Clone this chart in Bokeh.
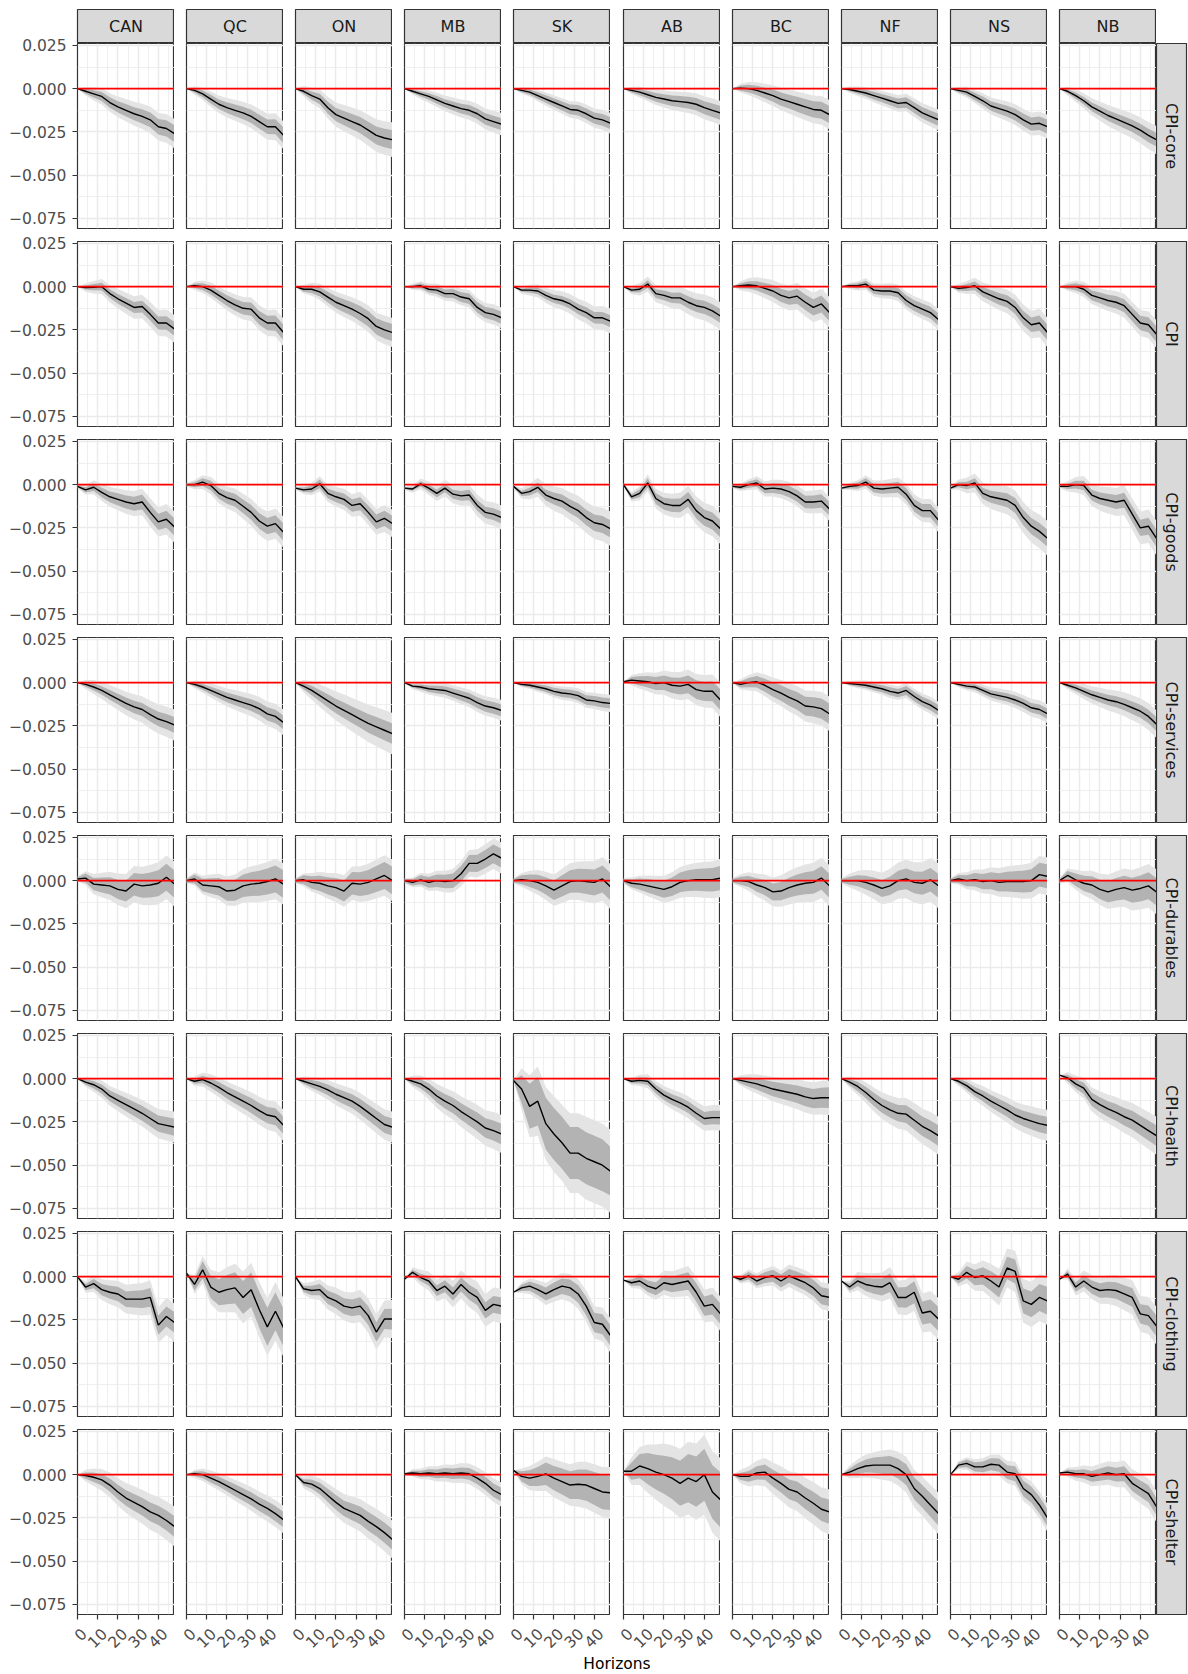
import math

from bokeh.core.properties import value
from bokeh.core.validation import silence
from bokeh.core.validation.warnings import MISSING_RENDERERS
from bokeh.embed import file_html
from bokeh.layouts import column, row
from bokeh.models import (ColumnDataSource, CustomJSTickFormatter, FixedTicker,
                          Grid, Label, LinearAxis, Range1d, Spacer, Span)
from bokeh.plotting import figure
from bokeh.resources import INLINE

# ---------------------------------------------------------------- data ----
REGIONS = ["CAN", "QC", "ON", "MB", "SK", "AB", "BC", "NF", "NS", "NB"]
SERIES = ["CPI-core", "CPI", "CPI-goods", "CPI-services",
          "CPI-durables", "CPI-health", "CPI-clothing", "CPI-shelter"]
HORIZONS = [0, 4, 8, 12, 16, 20, 24, 28, 32, 36, 40, 44, 48]
X_TICKS = [0, 10, 20, 30, 40]
X_TICK_LABELS = ["0", "10", "20", "30", "40"]
X_MINOR = [5, 15, 25, 35, 45]
Y_TICKS = [-0.075, -0.05, -0.025, 0.0, 0.025]
Y_MINOR = [-0.0625, -0.0375, -0.0125, 0.0125]
UNIT = 1e-3  # responses and band half-widths below are in thousandths

# point responses
IRF_CORE = {
    "CAN": [0, -1.5, -3, -4.5, -8, -10.5, -12.5, -14.5, -16, -18, -22, -23, -26],
    "QC": [0, -1, -3, -6, -9, -11, -12.5, -14, -16, -19, -22, -22, -27],
    "ON": [0, -1.5, -4, -6, -11, -15, -17, -19, -21, -24, -27, -28.5, -29.5],
    "MB": [0, -1.5, -3, -4.5, -6.5, -8.5, -10, -11.5, -12.5, -14.5, -17.5, -19, -20.5],
    "SK": [0, -1, -2, -4, -6, -8, -10, -12, -12.5, -14.5, -17, -18, -20],
    "AB": [0, -1, -2, -3.5, -5, -6, -7, -7.5, -8, -9, -11, -12.5, -14],
    "BC": [0, 0.3, 0, -1, -2.5, -4, -6, -7.5, -9, -10.5, -12, -12.5, -15],
    "NF": [0, -0.5, -1.5, -2.5, -4, -5.5, -7, -8.5, -8, -11, -14, -16, -18],
    "NS": [0, -1, -2, -4.5, -7, -10, -11.5, -13, -15, -18, -20.5, -20, -22],
    "NB": [0, -1.5, -4, -7, -10.5, -13, -15.5, -17.5, -19.5, -21.5, -24, -27, -29.5],
}
IRF_CPI = {
    "CAN": [0, -0.5, -0.3, 0, -4, -7, -9.5, -12, -11.5, -16, -21, -21, -24.5],
    "QC": [0, 0.5, 0, -2, -5, -8, -10.5, -12.5, -13, -18, -21, -21, -26.5],
    "ON": [0, -1.5, -1.5, -3, -6, -9, -11, -13, -15.5, -18.5, -23, -25, -26.5],
    "MB": [0, 0, 0.5, -1.5, -2, -4, -4, -6, -7, -12, -15, -16, -18],
    "SK": [0, -2, -2, -2.5, -5, -7, -8, -10, -13, -15, -18, -18, -20],
    "AB": [0, -2, -1.5, 1.5, -4, -5, -6.5, -6.5, -9, -11, -12, -14, -17],
    "BC": [0, 0.5, 1, 0.5, -1, -2.5, -5, -6.5, -5.5, -9, -12, -10, -15],
    "NF": [0, 0.5, 0.5, 1.5, -2, -2.5, -2.5, -3.5, -8, -11, -13, -15, -19],
    "NS": [0, -1, -0.5, 0.5, -3, -5, -7, -8.5, -12, -18, -22, -21, -26.5],
    "NB": [0, 0, 0, -1.5, -5, -6.5, -8, -9, -11, -16, -21, -22, -27.5],
}
IRF_GOODS = {
    "CAN": [-1, -3, -1.5, -4.5, -7, -8.5, -10, -11, -10, -16, -21.5, -20, -24.5],
    "QC": [0, 0, 1.5, -0.5, -5, -7.5, -9, -12.5, -16, -21, -24, -22.5, -27.5],
    "ON": [-2, -3, -2.5, 0.5, -5, -7, -8.5, -12, -11, -16, -21.5, -19.5, -22.5],
    "MB": [-2, -2.5, 0.5, -2, -5, -2, -5.5, -6.5, -6, -12, -16, -17, -19],
    "SK": [-1, -5, -4, -1.5, -6, -8, -9.5, -12.5, -15, -19, -22, -23, -25.5],
    "AB": [0, -7, -5, 1, -8, -11, -12, -12, -8.5, -15, -19, -21, -25.5],
    "BC": [-1, -1.5, 0, 1, -2.5, -2, -2.5, -4, -6.5, -10, -10, -9.5, -14],
    "NF": [-2, -1, -0.5, 1.5, -2, -2.5, -2, -1.5, -5.5, -12, -15, -15, -20.5],
    "NS": [-2, 0, -0.5, 1, -5, -7, -8, -9, -12, -19, -24, -27, -31],
    "NB": [-1, -1, 0, -0.5, -6, -8, -9, -10, -9, -17, -25, -24, -31],
}
IRF_SERVICES = {
    "CAN": [0, -1, -2.5, -4.5, -7, -9.5, -12, -14, -15.5, -18.5, -21, -22.5, -24.5],
    "QC": [0, -1, -2.5, -4.5, -6.5, -8.5, -10, -11.5, -13, -15, -18, -19.5, -23],
    "ON": [0, -2, -4.5, -7.5, -10.5, -13.5, -16, -18.5, -21, -23.5, -25.5, -27.5, -29.5],
    "MB": [0, -2, -2.5, -3.5, -4, -4.5, -6, -7.5, -9, -11.5, -13.5, -14.5, -16],
    "SK": [0, -1, -1.5, -2.5, -3.5, -5, -6, -6.5, -7.5, -10, -10.5, -11.5, -12],
    "AB": [0.5, 1.5, 1, 0.5, -0.5, 0, -1.5, -2, -1, -4, -5, -5, -10],
    "BC": [0, -1, 0, 0.5, -1.5, -4, -6, -8.5, -10.5, -13.5, -14, -15, -18],
    "NF": [0, -0.5, -1, -1.5, -2.5, -3.5, -5, -6, -4.5, -8, -11, -13, -16],
    "NS": [0, -1, -2, -2.5, -4.5, -6.5, -7.5, -8.5, -10, -12, -14.5, -15.5, -18],
    "NB": [0, -1.5, -3, -5, -7, -8.5, -10, -11, -12.5, -14.5, -16.5, -19.5, -24],
}
IRF_DURABLES = {
    "CAN": [1, 1.5, -2, -2.5, -3, -5, -6, -2, -3, -2.5, -1.5, 2, -2],
    "QC": [0, 1, -2.5, -3, -3.5, -6, -5.5, -3, -2, -1.5, -0.5, 1, -2],
    "ON": [0, 0.5, -1, -1.5, -3, -4, -6, -1.5, -2, -1, 1, 3, 0],
    "MB": [0, -1, 0.5, -1, 0, -0.5, 0, 4, 10, 10, 12.5, 15.5, 13],
    "SK": [0, 0.5, 0, -1, -3, -5.5, -3, -0.5, 0, -0.5, -1, 1, -3.5],
    "AB": [0, -1.5, -2, -3, -4, -5, -3.5, -1, 0, 0.5, 0.5, 0.5, 1.5],
    "BC": [0, 0, -0.5, -2.5, -4, -6.5, -6, -4, -2.5, -1.5, -1, 1.5, -3],
    "NF": [0, 0, 0, -1, -2.5, -4.5, -3, 0, 1, -1, -1.5, 0.5, -3],
    "NS": [0, 1, 0, 0.5, -0.5, 0, -1, -0.5, -0.5, -0.5, 0, 3.5, 2.5],
    "NB": [0, 3, 0.5, -1.5, -2.5, -5, -6.5, -5, -4, -5.5, -4.5, -3, -6.5],
}
IRF_HEALTH = {
    "CAN": [0, -2, -3.5, -6, -10, -12.5, -15, -17.5, -20, -23, -26, -27, -28],
    "QC": [0, -1.5, -0.5, -2.5, -5, -8, -10.5, -13, -15.5, -18.5, -21, -22, -27],
    "ON": [0, -1.5, -3, -4.5, -6.5, -9, -11, -13, -16, -19.5, -23, -26.5, -28],
    "MB": [0, -1.5, -3, -6, -10, -13, -15.5, -19, -22, -25, -28.5, -30, -32],
    "SK": [-1, -6, -16, -13, -26, -32, -37, -43, -43, -46, -48, -50, -53.5],
    "AB": [0, -1.5, -1, -1.5, -6, -9.5, -12, -14, -16.5, -20, -23, -22.5, -22.5],
    "BC": [0, -1, -2, -3, -4.5, -6, -7, -8, -9, -10.5, -11.5, -11, -11],
    "NF": [0, -2, -4.5, -8, -12, -15.5, -18, -20, -20.5, -24, -27.5, -30, -33],
    "NS": [0, -1.5, -4, -7.5, -10, -13, -15.5, -18, -21, -23, -24.5, -26, -27],
    "NB": [2, 0.5, -3, -5.5, -12, -15, -17.5, -19.5, -22, -24, -27, -30, -33],
}
IRF_CLOTHING = {
    "CAN": [0, -6, -4, -7.5, -9, -10, -13, -13, -13, -12, -28, -23, -26.5],
    "QC": [2, -4.5, 4, -6, -9, -7.5, -6.5, -12, -7.5, -19, -29, -20, -29.5],
    "ON": [0, -7, -8, -7.5, -12, -14, -17, -18, -17, -22.5, -32, -24.5, -24.5],
    "MB": [-1.5, 2.5, -0.5, -2.5, -8, -5.5, -10, -4.5, -9, -12, -19.5, -16, -17],
    "SK": [-9, -6.5, -5.5, -7.5, -10, -7.5, -5.5, -6.5, -10, -17, -26.5, -27.5, -34],
    "AB": [-2, -3.5, -2.5, -5.5, -7, -3.5, -4.5, -3.5, -2.5, -9, -17, -16, -21.5],
    "BC": [0, -1.5, 0.5, -2.5, -0.5, 0.5, -2.5, 0.5, -1.5, -3.5, -6.5, -11, -12],
    "NF": [-2.5, -6, -2.5, -4.5, -5.5, -6, -3.5, -12, -12, -9, -21, -20, -24.5],
    "NS": [0, -1.5, 2.5, -0.5, 0.5, -2.5, -6, 5, 3, -14, -16, -12, -14],
    "NB": [-1.5, 1.5, -6, -2.5, -6, -8, -7.5, -8, -10, -12, -21.5, -22.5, -28.5],
}
IRF_SHELTER = {
    "CAN": [0, -0.5, -1.5, -3, -6, -10, -13.5, -16, -18.5, -21.5, -23.5, -26.5, -30],
    "QC": [0, 0.5, 0, -2, -4, -6.5, -9, -11.5, -14, -17, -19.5, -22.5, -26],
    "ON": [0, -4.5, -5.5, -8, -12, -16, -19.5, -21.5, -23.5, -27, -30, -33.5, -37.5],
    "MB": [0.5, 1, 0.5, 1, 0.5, 1, 0.5, 1, 0.5, -2, -5, -9, -11.5],
    "SK": [2.5, -1, -2, -1, 0.5, -2, -4, -6, -5.5, -6, -8, -10, -10.5],
    "AB": [2, 2, 5, 3.5, 1.5, 0, -2, -5, -2, -4, 0, -10, -14.5],
    "BC": [0, -1, -1, 1, 1.5, -2, -5, -8.5, -10, -13.5, -16.5, -20, -21.5],
    "NF": [0, 1.5, 3.5, 5, 5.5, 5.5, 5.5, 3.5, 0, -8, -12.5, -17.5, -22.5],
    "NS": [0, 5.5, 6.5, 4.5, 4.5, 6, 5.5, 1.5, 0.5, -8, -11.5, -17.5, -25],
    "NB": [1, 1.5, 0.5, 0.5, -1, 0, 1, 0, 0.5, -5, -8, -11, -18.5],
}

# half-widths of the inner (dark) confidence band
BAND_IN_CORE = {
    "CAN": [0, 1.4, 2.1, 2.6, 3.0, 3.3, 3.6, 3.8, 4.1, 4.3, 4.5, 4.7, 4.8],
    "QC": [0, 1.3, 2.0, 2.5, 2.8, 3.1, 3.4, 3.6, 3.8, 4.0, 4.2, 4.4, 4.5],
    "ON": [0, 1.6, 2.4, 3.0, 3.5, 3.8, 4.1, 4.4, 4.7, 4.9, 5.2, 5.4, 5.5],
    "MB": [0, 1.0, 1.5, 1.9, 2.2, 2.4, 2.6, 2.8, 3.0, 3.1, 3.3, 3.4, 3.5],
    "SK": [0, 1.0, 1.5, 1.9, 2.2, 2.4, 2.6, 2.8, 3.0, 3.1, 3.3, 3.4, 3.5],
    "AB": [0, 1.2, 1.8, 2.2, 2.5, 2.8, 3.0, 3.2, 3.4, 3.6, 3.8, 3.9, 4.0],
    "BC": [0, 1.5, 2.2, 2.7, 3.1, 3.5, 3.8, 4.0, 4.3, 4.5, 4.7, 4.9, 5.0],
    "NF": [0, 1.0, 1.5, 1.9, 2.2, 2.4, 2.6, 2.8, 3.0, 3.1, 3.3, 3.4, 3.5],
    "NS": [0, 1.2, 1.8, 2.2, 2.5, 2.8, 3.0, 3.2, 3.4, 3.6, 3.8, 3.9, 4.0],
    "NB": [0, 1.2, 1.8, 2.2, 2.5, 2.8, 3.0, 3.2, 3.4, 3.6, 3.8, 3.9, 4.0],
}
BAND_IN_CPI = {
    "CAN": [0, 1.2, 1.8, 2.2, 2.5, 2.8, 3.0, 3.2, 3.4, 3.6, 3.8, 3.9, 4.0],
    "QC": [0, 1.3, 2.0, 2.5, 2.8, 3.1, 3.4, 3.6, 3.8, 4.0, 4.2, 4.4, 4.5],
    "ON": [0, 1.5, 2.2, 2.7, 3.1, 3.5, 3.8, 4.0, 4.3, 4.5, 4.7, 4.9, 5.0],
    "MB": [0, 1.0, 1.5, 1.9, 2.2, 2.4, 2.6, 2.8, 3.0, 3.1, 3.3, 3.4, 3.5],
    "SK": [0, 1.0, 1.5, 1.9, 2.2, 2.4, 2.6, 2.8, 3.0, 3.1, 3.3, 3.4, 3.5],
    "AB": [0, 1.2, 1.8, 2.2, 2.5, 2.8, 3.0, 3.2, 3.4, 3.6, 3.8, 3.9, 4.0],
    "BC": [0, 1.5, 2.2, 2.7, 3.1, 3.5, 3.8, 4.0, 4.3, 4.5, 4.7, 4.9, 5.0],
    "NF": [0, 1.0, 1.5, 1.9, 2.2, 2.4, 2.6, 2.8, 3.0, 3.1, 3.3, 3.4, 3.5],
    "NS": [0, 1.3, 2.0, 2.5, 2.8, 3.1, 3.4, 3.6, 3.8, 4.0, 4.2, 4.4, 4.5],
    "NB": [0, 1.3, 2.0, 2.5, 2.8, 3.1, 3.4, 3.6, 3.8, 4.0, 4.2, 4.4, 4.5],
}
BAND_IN_GOODS = {
    "CAN": [0.5, 1.5, 2.2, 2.7, 3.1, 3.5, 3.8, 4.0, 4.3, 4.5, 4.7, 4.9, 5.0],
    "QC": [0.5, 1.5, 2.2, 2.7, 3.1, 3.5, 3.8, 4.0, 4.3, 4.5, 4.7, 4.9, 5.0],
    "ON": [0.5, 1.3, 2.0, 2.5, 2.8, 3.1, 3.4, 3.6, 3.8, 4.0, 4.2, 4.4, 4.5],
    "MB": [0.5, 1.0, 1.5, 1.9, 2.2, 2.4, 2.6, 2.8, 3.0, 3.1, 3.3, 3.4, 3.5],
    "SK": [0.5, 1.5, 2.2, 2.7, 3.1, 3.5, 3.8, 4.0, 4.3, 4.5, 4.7, 4.9, 5.0],
    "AB": [0.5, 1.5, 2.2, 2.7, 3.1, 3.5, 3.8, 4.0, 4.3, 4.5, 4.7, 4.9, 5.0],
    "BC": [0.5, 1.2, 1.8, 2.2, 2.5, 2.8, 3.0, 3.2, 3.4, 3.6, 3.8, 3.9, 4.0],
    "NF": [0.5, 1.2, 1.8, 2.2, 2.5, 2.8, 3.0, 3.2, 3.4, 3.6, 3.8, 3.9, 4.0],
    "NS": [0.5, 1.5, 2.2, 2.7, 3.1, 3.5, 3.8, 4.0, 4.3, 4.5, 4.7, 4.9, 5.0],
    "NB": [0.5, 1.5, 2.2, 2.7, 3.1, 3.5, 3.8, 4.0, 4.3, 4.5, 4.7, 4.9, 5.0],
}
BAND_IN_SERVICES = {
    "CAN": [0, 1.3, 2.0, 2.5, 2.8, 3.1, 3.4, 3.6, 3.8, 4.0, 4.2, 4.4, 4.5],
    "QC": [0, 1.2, 1.8, 2.2, 2.5, 2.8, 3.0, 3.2, 3.4, 3.6, 3.8, 3.9, 4.0],
    "ON": [0, 1.8, 2.7, 3.3, 3.8, 4.2, 4.5, 4.8, 5.1, 5.4, 5.6, 5.8, 6.0],
    "MB": [0, 1.0, 1.5, 1.9, 2.2, 2.4, 2.6, 2.8, 3.0, 3.1, 3.3, 3.4, 3.5],
    "SK": [0, 0.9, 1.3, 1.6, 1.9, 2.1, 2.3, 2.4, 2.6, 2.7, 2.8, 2.9, 3.0],
    "AB": [0, 1.8, 2.7, 3.3, 3.8, 4.2, 4.5, 4.8, 5.1, 5.4, 5.6, 5.8, 6.0],
    "BC": [0, 1.8, 2.7, 3.3, 3.8, 4.2, 4.5, 4.8, 5.1, 5.4, 5.6, 5.8, 6.0],
    "NF": [0, 0.9, 1.3, 1.6, 1.9, 2.1, 2.3, 2.4, 2.6, 2.7, 2.8, 2.9, 3.0],
    "NS": [0, 0.9, 1.3, 1.6, 1.9, 2.1, 2.3, 2.4, 2.6, 2.7, 2.8, 2.9, 3.0],
    "NB": [0, 1.2, 1.8, 2.2, 2.5, 2.8, 3.0, 3.2, 3.4, 3.6, 3.8, 3.9, 4.0],
}
BAND_IN_DURABLES = {
    "CAN": [1.0, 2.6, 3.6, 4.4, 5.0, 5.6, 6.1, 6.5, 6.9, 7.2, 7.5, 7.8, 8.0],
    "QC": [1.0, 2.6, 3.6, 4.4, 5.0, 5.6, 6.1, 6.5, 6.9, 7.2, 7.5, 7.8, 8.0],
    "ON": [1.0, 2.6, 3.6, 4.4, 5.0, 5.6, 6.1, 6.5, 6.9, 7.2, 7.5, 7.8, 8.0],
    "MB": [1.0, 1.8, 2.6, 3.1, 3.6, 3.9, 4.2, 4.5, 4.8, 5.0, 5.2, 5.4, 5.5],
    "SK": [1.0, 2.6, 3.6, 4.4, 5.0, 5.6, 6.1, 6.5, 6.9, 7.2, 7.5, 7.8, 8.0],
    "AB": [1.0, 2.3, 3.2, 3.9, 4.4, 4.9, 5.3, 5.7, 6.0, 6.3, 6.6, 6.8, 7.0],
    "BC": [1.0, 2.3, 3.2, 3.9, 4.4, 4.9, 5.3, 5.7, 6.0, 6.3, 6.6, 6.8, 7.0],
    "NF": [1.0, 2.3, 3.2, 3.9, 4.4, 4.9, 5.3, 5.7, 6.0, 6.3, 6.6, 6.8, 7.0],
    "NS": [1.0, 2.3, 3.2, 3.9, 4.4, 4.9, 5.3, 5.7, 6.0, 6.3, 6.6, 6.8, 7.0],
    "NB": [1.0, 2.6, 3.6, 4.4, 5.0, 5.6, 6.1, 6.5, 6.9, 7.2, 7.5, 7.8, 8.0],
}
BAND_IN_HEALTH = {
    "CAN": [0, 1.5, 2.2, 2.7, 3.1, 3.5, 3.8, 4.0, 4.3, 4.5, 4.7, 4.9, 5.0],
    "QC": [0, 1.5, 2.2, 2.7, 3.1, 3.5, 3.8, 4.0, 4.3, 4.5, 4.7, 4.9, 5.0],
    "ON": [0, 1.5, 2.2, 2.7, 3.1, 3.5, 3.8, 4.0, 4.3, 4.5, 4.7, 4.9, 5.0],
    "MB": [0, 1.8, 2.7, 3.3, 3.8, 4.2, 4.5, 4.8, 5.1, 5.4, 5.6, 5.8, 6.0],
    "SK": [0, 8.0, 13.0, 14.0, 15.0, 15.0, 15.0, 15.0, 15.0, 15.0, 15.0, 15.0, 14.0],
    "AB": [0, 1.2, 1.8, 2.2, 2.5, 2.8, 3.0, 3.2, 3.4, 3.6, 3.8, 3.9, 4.0],
    "BC": [0, 1.8, 2.7, 3.3, 3.8, 4.2, 4.5, 4.8, 5.1, 5.4, 5.6, 5.8, 6.0],
    "NF": [0, 1.8, 2.7, 3.3, 3.8, 4.2, 4.5, 4.8, 5.1, 5.4, 5.6, 5.8, 6.0],
    "NS": [0, 1.5, 2.2, 2.7, 3.1, 3.5, 3.8, 4.0, 4.3, 4.5, 4.7, 4.9, 5.0],
    "NB": [0, 1.8, 2.7, 3.3, 3.8, 4.2, 4.5, 4.8, 5.1, 5.4, 5.6, 5.8, 6.0],
}
BAND_IN_CLOTHING = {
    "CAN": [0, 1.8, 2.7, 3.3, 3.8, 4.2, 4.5, 4.8, 5.1, 5.4, 5.6, 5.8, 6.0],
    "QC": [0, 3.5, 5.0, 6.5, 7.5, 8.5, 9.0, 9.5, 10.0, 10.5, 11.0, 11.0, 11.0],
    "ON": [0, 1.8, 2.7, 3.3, 3.8, 4.2, 4.5, 4.8, 5.1, 5.4, 5.6, 5.8, 6.0],
    "MB": [0, 1.5, 2.2, 2.7, 3.1, 3.5, 3.8, 4.0, 4.3, 4.5, 4.7, 4.9, 5.0],
    "SK": [0, 1.8, 2.7, 3.3, 3.8, 4.2, 4.5, 4.8, 5.1, 5.4, 5.6, 5.8, 6.0],
    "AB": [0, 1.8, 2.7, 3.3, 3.8, 4.2, 4.5, 4.8, 5.1, 5.4, 5.6, 5.8, 6.0],
    "BC": [0, 1.5, 2.2, 2.7, 3.1, 3.5, 3.8, 4.0, 4.3, 4.5, 4.7, 4.9, 5.0],
    "NF": [0, 2.1, 3.1, 3.8, 4.4, 4.9, 5.3, 5.7, 6.0, 6.3, 6.6, 6.8, 7.0],
    "NS": [0, 2.4, 3.6, 4.4, 5.0, 5.6, 6.1, 6.5, 6.9, 7.2, 7.5, 7.8, 8.0],
    "NB": [0, 1.8, 2.7, 3.3, 3.8, 4.2, 4.5, 4.8, 5.1, 5.4, 5.6, 5.8, 6.0],
}
BAND_IN_SHELTER = {
    "CAN": [0, 1.8, 2.7, 3.3, 3.8, 4.2, 4.5, 4.8, 5.1, 5.4, 5.6, 5.8, 6.0],
    "QC": [0, 1.3, 2.0, 2.5, 2.8, 3.1, 3.4, 3.6, 3.8, 4.0, 4.2, 4.4, 4.5],
    "ON": [0, 1.8, 2.7, 3.3, 3.8, 4.2, 4.5, 4.8, 5.1, 5.4, 5.6, 5.8, 6.0],
    "MB": [0, 1.2, 1.8, 2.2, 2.5, 2.8, 3.0, 3.2, 3.4, 3.6, 3.8, 3.9, 4.0],
    "SK": [0, 3.0, 4.5, 5.5, 6.5, 7.0, 7.5, 8.0, 8.5, 9.0, 9.5, 10.0, 10.0],
    "AB": [0, 5.0, 7.0, 9.0, 10.0, 11.0, 12.0, 13.0, 14.0, 14.5, 15.0, 15.5, 16.0],
    "BC": [0, 2.1, 3.1, 3.8, 4.4, 4.9, 5.3, 5.7, 6.0, 6.3, 6.6, 6.8, 7.0],
    "NF": [0, 2.1, 3.1, 3.8, 4.4, 4.9, 5.3, 5.7, 6.0, 6.3, 6.6, 6.8, 7.0],
    "NS": [0, 1.5, 2.2, 2.7, 3.1, 3.5, 3.8, 4.0, 4.3, 4.5, 4.7, 4.9, 5.0],
    "NB": [0, 1.5, 2.2, 2.7, 3.1, 3.5, 3.8, 4.0, 4.3, 4.5, 4.7, 4.9, 5.0],
}

# half-widths of the outer (light) confidence band
BAND_OUT_CORE = {
    "CAN": [0, 2.5, 3.8, 4.7, 5.4, 6.0, 6.5, 6.9, 7.3, 7.7, 8.0, 8.3, 8.5],
    "QC": [0, 2.4, 3.6, 4.4, 5.0, 5.6, 6.1, 6.5, 6.9, 7.2, 7.5, 7.8, 8.0],
    "ON": [0, 3.0, 4.5, 5.5, 6.3, 7.0, 7.6, 8.1, 8.6, 9.0, 9.4, 9.7, 10.0],
    "MB": [0, 1.9, 2.9, 3.6, 4.1, 4.5, 4.9, 5.2, 5.5, 5.8, 6.1, 6.3, 6.5],
    "SK": [0, 1.8, 2.7, 3.3, 3.8, 4.2, 4.5, 4.8, 5.1, 5.4, 5.6, 5.8, 6.0],
    "AB": [0, 2.1, 3.1, 3.8, 4.4, 4.9, 5.3, 5.7, 6.0, 6.3, 6.6, 6.8, 7.0],
    "BC": [0, 2.5, 3.8, 4.7, 5.4, 6.0, 6.5, 6.9, 7.3, 7.7, 8.0, 8.3, 8.5],
    "NF": [0, 1.8, 2.7, 3.3, 3.8, 4.2, 4.5, 4.8, 5.1, 5.4, 5.6, 5.8, 6.0],
    "NS": [0, 2.1, 3.1, 3.8, 4.4, 4.9, 5.3, 5.7, 6.0, 6.3, 6.6, 6.8, 7.0],
    "NB": [0, 2.4, 3.6, 4.4, 5.0, 5.6, 6.1, 6.5, 6.9, 7.2, 7.5, 7.8, 8.0],
}
BAND_OUT_CPI = {
    "CAN": [0, 2.4, 3.6, 4.4, 5.0, 5.6, 6.1, 6.5, 6.9, 7.2, 7.5, 7.8, 8.0],
    "QC": [0, 2.4, 3.6, 4.4, 5.0, 5.6, 6.1, 6.5, 6.9, 7.2, 7.5, 7.8, 8.0],
    "ON": [0, 2.5, 3.8, 4.7, 5.4, 6.0, 6.5, 6.9, 7.3, 7.7, 8.0, 8.3, 8.5],
    "MB": [0, 1.8, 2.7, 3.3, 3.8, 4.2, 4.5, 4.8, 5.1, 5.4, 5.6, 5.8, 6.0],
    "SK": [0, 2.1, 3.1, 3.8, 4.4, 4.9, 5.3, 5.7, 6.0, 6.3, 6.6, 6.8, 7.0],
    "AB": [0, 2.4, 3.6, 4.4, 5.0, 5.6, 6.1, 6.5, 6.9, 7.2, 7.5, 7.8, 8.0],
    "BC": [0, 2.7, 4.0, 5.0, 5.7, 6.3, 6.8, 7.3, 7.7, 8.1, 8.5, 8.8, 9.0],
    "NF": [0, 1.8, 2.7, 3.3, 3.8, 4.2, 4.5, 4.8, 5.1, 5.4, 5.6, 5.8, 6.0],
    "NS": [0, 2.5, 3.8, 4.7, 5.4, 6.0, 6.5, 6.9, 7.3, 7.7, 8.0, 8.3, 8.5],
    "NB": [0, 2.4, 3.6, 4.4, 5.0, 5.6, 6.1, 6.5, 6.9, 7.2, 7.5, 7.8, 8.0],
}
BAND_OUT_GOODS = {
    "CAN": [1.0, 2.7, 4.0, 5.0, 5.7, 6.3, 6.8, 7.3, 7.7, 8.1, 8.5, 8.8, 9.0],
    "QC": [1.0, 2.7, 4.0, 5.0, 5.7, 6.3, 6.8, 7.3, 7.7, 8.1, 8.5, 8.8, 9.0],
    "ON": [1.0, 2.4, 3.6, 4.4, 5.0, 5.6, 6.1, 6.5, 6.9, 7.2, 7.5, 7.8, 8.0],
    "MB": [1.0, 2.1, 3.1, 3.8, 4.4, 4.9, 5.3, 5.7, 6.0, 6.3, 6.6, 6.8, 7.0],
    "SK": [1.0, 3.0, 4.5, 5.5, 6.3, 7.0, 7.6, 8.1, 8.6, 9.0, 9.4, 9.7, 10.0],
    "AB": [1.0, 2.7, 4.0, 5.0, 5.7, 6.3, 6.8, 7.3, 7.7, 8.1, 8.5, 8.8, 9.0],
    "BC": [1.0, 2.1, 3.1, 3.8, 4.4, 4.9, 5.3, 5.7, 6.0, 6.3, 6.6, 6.8, 7.0],
    "NF": [1.0, 2.1, 3.1, 3.8, 4.4, 4.9, 5.3, 5.7, 6.0, 6.3, 6.6, 6.8, 7.0],
    "NS": [1.0, 3.0, 4.5, 5.5, 6.3, 7.0, 7.6, 8.1, 8.6, 9.0, 9.4, 9.7, 10.0],
    "NB": [1.0, 3.0, 4.5, 5.5, 6.3, 7.0, 7.6, 8.1, 8.6, 9.0, 9.4, 9.7, 10.0],
}
BAND_OUT_SERVICES = {
    "CAN": [0, 2.7, 4.0, 5.0, 5.7, 6.3, 6.8, 7.3, 7.7, 8.1, 8.5, 8.8, 9.0],
    "QC": [0, 2.2, 3.3, 4.1, 4.7, 5.2, 5.7, 6.1, 6.4, 6.8, 7.1, 7.3, 7.5],
    "ON": [0, 3.6, 5.4, 6.6, 7.5, 8.4, 9.1, 9.7, 10.3, 10.8, 11.3, 11.7, 12.0],
    "MB": [0, 1.8, 2.7, 3.3, 3.8, 4.2, 4.5, 4.8, 5.1, 5.4, 5.6, 5.8, 6.0],
    "SK": [0, 1.5, 2.2, 2.7, 3.1, 3.5, 3.8, 4.0, 4.3, 4.5, 4.7, 4.9, 5.0],
    "AB": [0, 3.0, 4.5, 5.5, 6.3, 7.0, 7.6, 8.1, 8.6, 9.0, 9.4, 9.7, 10.0],
    "BC": [0, 3.0, 4.5, 5.5, 6.3, 7.0, 7.6, 8.1, 8.6, 9.0, 9.4, 9.7, 10.0],
    "NF": [0, 1.5, 2.2, 2.7, 3.1, 3.5, 3.8, 4.0, 4.3, 4.5, 4.7, 4.9, 5.0],
    "NS": [0, 1.6, 2.4, 3.0, 3.5, 3.8, 4.1, 4.4, 4.7, 4.9, 5.2, 5.4, 5.5],
    "NB": [0, 2.4, 3.6, 4.4, 5.0, 5.6, 6.1, 6.5, 6.9, 7.2, 7.5, 7.8, 8.0],
}
BAND_OUT_DURABLES = {
    "CAN": [1.5, 4.0, 5.8, 7.1, 8.2, 9.1, 9.9, 10.5, 11.1, 11.7, 12.2, 12.6, 13.0],
    "QC": [1.5, 3.7, 5.4, 6.6, 7.5, 8.4, 9.1, 9.7, 10.3, 10.8, 11.3, 11.7, 12.0],
    "ON": [1.5, 3.7, 5.4, 6.6, 7.5, 8.4, 9.1, 9.7, 10.3, 10.8, 11.3, 11.7, 12.0],
    "MB": [1.5, 2.8, 4.0, 5.0, 5.7, 6.3, 6.8, 7.3, 7.7, 8.1, 8.5, 8.8, 9.0],
    "SK": [1.5, 4.0, 5.8, 7.1, 8.2, 9.1, 9.9, 10.5, 11.1, 11.7, 12.2, 12.6, 13.0],
    "AB": [1.5, 3.4, 4.9, 6.0, 6.9, 7.7, 8.3, 8.9, 9.4, 9.9, 10.3, 10.7, 11.0],
    "BC": [1.5, 3.7, 5.4, 6.6, 7.5, 8.4, 9.1, 9.7, 10.3, 10.8, 11.3, 11.7, 12.0],
    "NF": [1.5, 4.0, 5.8, 7.1, 8.2, 9.1, 9.9, 10.5, 11.1, 11.7, 12.2, 12.6, 13.0],
    "NS": [1.5, 3.4, 4.9, 6.0, 6.9, 7.7, 8.3, 8.9, 9.4, 9.9, 10.3, 10.7, 11.0],
    "NB": [1.5, 4.0, 5.8, 7.1, 8.2, 9.1, 9.9, 10.5, 11.1, 11.7, 12.2, 12.6, 13.0],
}
BAND_OUT_HEALTH = {
    "CAN": [0, 2.7, 4.0, 5.0, 5.7, 6.3, 6.8, 7.3, 7.7, 8.1, 8.5, 8.8, 9.0],
    "QC": [0, 2.7, 4.0, 5.0, 5.7, 6.3, 6.8, 7.3, 7.7, 8.1, 8.5, 8.8, 9.0],
    "ON": [0, 2.7, 4.0, 5.0, 5.7, 6.3, 6.8, 7.3, 7.7, 8.1, 8.5, 8.8, 9.0],
    "MB": [0, 3.3, 4.9, 6.0, 6.9, 7.7, 8.3, 8.9, 9.4, 9.9, 10.3, 10.7, 11.0],
    "SK": [0, 12.0, 18.0, 20.0, 21.0, 22.0, 22.0, 23.0, 23.0, 24.0, 24.0, 24.0, 24.0],
    "AB": [0, 2.2, 3.3, 4.1, 4.7, 5.2, 5.7, 6.1, 6.4, 6.8, 7.1, 7.3, 7.5],
    "BC": [0, 3.0, 4.5, 5.5, 6.3, 7.0, 7.6, 8.1, 8.6, 9.0, 9.4, 9.7, 10.0],
    "NF": [0, 3.3, 4.9, 6.0, 6.9, 7.7, 8.3, 8.9, 9.4, 9.9, 10.3, 10.7, 11.0],
    "NS": [0, 2.7, 4.0, 5.0, 5.7, 6.3, 6.8, 7.3, 7.7, 8.1, 8.5, 8.8, 9.0],
    "NB": [0, 3.3, 4.9, 6.0, 6.9, 7.7, 8.3, 8.9, 9.4, 9.9, 10.3, 10.7, 11.0],
}
BAND_OUT_CLOTHING = {
    "CAN": [0, 3.3, 4.9, 6.0, 6.9, 7.7, 8.3, 8.9, 9.4, 9.9, 10.3, 10.7, 11.0],
    "QC": [0, 5.5, 8.0, 10.0, 11.5, 13.0, 14.0, 15.0, 15.5, 16.0, 16.5, 17.0, 17.0],
    "ON": [0, 3.3, 4.9, 6.0, 6.9, 7.7, 8.3, 8.9, 9.4, 9.9, 10.3, 10.7, 11.0],
    "MB": [0, 3.0, 4.5, 5.5, 6.3, 7.0, 7.6, 8.1, 8.6, 9.0, 9.4, 9.7, 10.0],
    "SK": [0, 3.0, 4.5, 5.5, 6.3, 7.0, 7.6, 8.1, 8.6, 9.0, 9.4, 9.7, 10.0],
    "AB": [0, 3.0, 4.5, 5.5, 6.3, 7.0, 7.6, 8.1, 8.6, 9.0, 9.4, 9.7, 10.0],
    "BC": [0, 2.4, 3.6, 4.4, 5.0, 5.6, 6.1, 6.5, 6.9, 7.2, 7.5, 7.8, 8.0],
    "NF": [0, 3.6, 5.4, 6.6, 7.5, 8.4, 9.1, 9.7, 10.3, 10.8, 11.3, 11.7, 12.0],
    "NS": [0, 4.2, 6.3, 7.7, 8.8, 9.8, 10.6, 11.3, 12.0, 12.6, 13.1, 13.6, 14.0],
    "NB": [0, 3.3, 4.9, 6.0, 6.9, 7.7, 8.3, 8.9, 9.4, 9.9, 10.3, 10.7, 11.0],
}
BAND_OUT_SHELTER = {
    "CAN": [0, 3.4, 5.1, 6.3, 7.2, 8.0, 8.7, 9.3, 9.8, 10.3, 10.8, 11.2, 11.5],
    "QC": [0, 2.4, 3.6, 4.4, 5.0, 5.6, 6.1, 6.5, 6.9, 7.2, 7.5, 7.8, 8.0],
    "ON": [0, 3.3, 4.9, 6.0, 6.9, 7.7, 8.3, 8.9, 9.4, 9.9, 10.3, 10.7, 11.0],
    "MB": [0, 2.1, 3.1, 3.8, 4.4, 4.9, 5.3, 5.7, 6.0, 6.3, 6.6, 6.8, 7.0],
    "SK": [0, 4.5, 7.0, 8.5, 10.0, 11.0, 11.5, 12.0, 13.0, 13.5, 14.0, 14.5, 15.0],
    "AB": [0, 8.0, 11.0, 14.0, 16.0, 18.0, 19.0, 20.0, 21.0, 22.0, 23.0, 23.5, 24.0],
    "BC": [0, 3.9, 5.8, 7.1, 8.2, 9.1, 9.9, 10.5, 11.1, 11.7, 12.2, 12.6, 13.0],
    "NF": [0, 3.6, 5.4, 6.6, 7.5, 8.4, 9.1, 9.7, 10.3, 10.8, 11.3, 11.7, 12.0],
    "NS": [0, 2.4, 3.6, 4.4, 5.0, 5.6, 6.1, 6.5, 6.9, 7.2, 7.5, 7.8, 8.0],
    "NB": [0, 2.7, 4.0, 5.0, 5.7, 6.3, 6.8, 7.3, 7.7, 8.1, 8.5, 8.8, 9.0],
}

IRF = [IRF_CORE, IRF_CPI, IRF_GOODS, IRF_SERVICES,
       IRF_DURABLES, IRF_HEALTH, IRF_CLOTHING, IRF_SHELTER]
BAND_IN = [BAND_IN_CORE, BAND_IN_CPI, BAND_IN_GOODS, BAND_IN_SERVICES,
           BAND_IN_DURABLES, BAND_IN_HEALTH, BAND_IN_CLOTHING, BAND_IN_SHELTER]
BAND_OUT = [BAND_OUT_CORE, BAND_OUT_CPI, BAND_OUT_GOODS, BAND_OUT_SERVICES,
            BAND_OUT_DURABLES, BAND_OUT_HEALTH, BAND_OUT_CLOTHING, BAND_OUT_SHELTER]

# ---------------------------------------------------------------- style ---
FONT = "DejaVu Sans"
TICK_SIZE = "15.5px"
STRIP_SIZE = "16px"
TICK_COLOR = "#4D4D4D"
BORDER = "#333333"
GRID = "#EBEBEB"
LIGHT = "#E4E4E4"
DARK = "#B3B3B3"
STRIP_FILL = "#D9D9D9"
X_LO, X_HI = 0, 48
Y_LO, Y_HI = -0.0808, 0.0261

# layout (pixels)
Y_LABEL_W = 67          # column holding the y tick labels
FRAME_W = 97
COL_LEFT = [10, 12, 12, 12, 12, 13, 12, 12, 12, 12]   # gap left of each panel
FRAME_H = 185
ROW_GAP = 13
TICK_H = 6              # room for the x tick marks under the last row
X_LABEL_H = 32          # row of rotated x tick labels
X_LABEL_DROP = 6
TOP_STRIP_H = 43
TOP_STRIP_PAD = 9
SIDE_STRIP_W = 32
TITLE_H = 22
PAGE_H = 1674

silence(MISSING_RENDERERS, True)

Y_FORMAT = CustomJSTickFormatter(
    code="return (tick < 0 ? '\u2212' : '') + Math.abs(tick).toFixed(3);")
NO_LABELS = CustomJSTickFormatter(code="return '';")


def bare_figure(width, height, x_range, y_range, left, right, top, bottom):
    p = figure(width=width, height=height, x_range=x_range, y_range=y_range,
               x_axis_location=None, y_axis_location=None,
               output_backend="svg", toolbar_location=None,
               min_border_left=left, min_border_right=right,
               min_border_top=top, min_border_bottom=bottom)
    p.grid.visible = False
    return p


def tick_axis(ticks):
    return LinearAxis(ticker=FixedTicker(ticks=ticks), formatter=NO_LABELS,
                      axis_line_color=None, major_tick_line_color=BORDER,
                      major_tick_line_width=1.2, major_tick_in=0, major_tick_out=5,
                      minor_tick_line_color=None, major_label_standoff=0,
                      major_label_text_font_size="0px")


def panel(si, ci, height, bottom, last_row):
    reg = REGIONS[ci]
    irf, inner, outer = IRF[si][reg], BAND_IN[si][reg], BAND_OUT[si][reg]
    src = ColumnDataSource(dict(
        h=HORIZONS,
        y=[v * UNIT for v in irf],
        in_lo=[(v - w) * UNIT for v, w in zip(irf, inner)],
        in_hi=[(v + w) * UNIT for v, w in zip(irf, inner)],
        out_lo=[(v - w) * UNIT for v, w in zip(irf, outer)],
        out_hi=[(v + w) * UNIT for v, w in zip(irf, outer)],
    ))
    p = bare_figure(COL_LEFT[ci] + FRAME_W, height, Range1d(X_LO, X_HI),
                    Range1d(Y_LO, Y_HI), COL_LEFT[ci], 0, 0, bottom)
    p.outline_line_color = BORDER
    p.outline_line_width = 1.2
    for dim, ticks, minor in ((0, X_TICKS, X_MINOR), (1, Y_TICKS, Y_MINOR)):
        p.add_layout(Grid(dimension=dim,
                          ticker=FixedTicker(ticks=ticks, minor_ticks=minor),
                          grid_line_color=GRID, grid_line_width=1.5,
                          minor_grid_line_color=GRID, minor_grid_line_width=0.8))
    p.varea(x="h", y1="out_lo", y2="out_hi", source=src, fill_color=LIGHT)
    p.varea(x="h", y1="in_lo", y2="in_hi", source=src, fill_color=DARK)
    p.line(x="h", y="y", source=src, line_color="black", line_width=1.4)
    p.add_layout(Span(location=0, dimension="width", line_color="red", line_width=1.8))

    if ci == 0:
        p.add_layout(tick_axis(Y_TICKS), "left")
    if last_row:
        p.add_layout(tick_axis(X_TICKS), "below")
    return p


def x_labels(ci):
    # same horizontal scale as the panel above; the frame also spans the gap
    # to its left so that the rotated labels near zero are not clipped
    span = X_HI - X_LO
    lo = X_LO - COL_LEFT[ci] * span / FRAME_W
    p = bare_figure(COL_LEFT[ci] + FRAME_W, X_LABEL_H, Range1d(lo, X_HI),
                    Range1d(-1, 0), 0, 0, 0, 0)
    p.outline_line_color = None
    src = ColumnDataSource(dict(x=X_TICKS, text=X_TICK_LABELS))
    p.text(x="x", y=0, text="text", source=src, angle=math.pi / 4,
           text_align="right", text_baseline="top", x_offset=2, y_offset=X_LABEL_DROP,
           text_font=value(FONT), text_font_size=value(TICK_SIZE), text_color=TICK_COLOR)
    return p


def strip(text, width, height, left, right, top, bottom, vertical):
    p = bare_figure(width, height, Range1d(0, 1), Range1d(0, 1), left, right, top, bottom)
    p.background_fill_color = STRIP_FILL
    p.outline_line_color = BORDER
    p.outline_line_width = 1.2
    p.add_layout(Label(x=0.5, y=0.5, text=text, text_align="center",
                       text_baseline="middle", angle=-math.pi / 2 if vertical else 0,
                       text_font=FONT, text_font_size=STRIP_SIZE, text_color="#1A1A1A"))
    return p


def y_labels(height, top, bottom):
    p = bare_figure(Y_LABEL_W, height, Range1d(X_LO, X_HI), Range1d(Y_LO, Y_HI),
                    Y_LABEL_W - 1, 0, top, bottom)
    p.outline_line_color = None
    p.add_layout(LinearAxis(ticker=FixedTicker(ticks=Y_TICKS), formatter=Y_FORMAT,
                            axis_line_color=None, major_tick_line_color=None,
                            major_tick_in=0, major_tick_out=0, minor_tick_line_color=None,
                            major_label_standoff=0, major_label_text_font=FONT,
                            major_label_text_font_size=TICK_SIZE,
                            major_label_text_color=TICK_COLOR), "left")
    return p


# y tick labels, one figure per facet row, aligned with the panel frames
label_col = []
n_rows = len(SERIES)
used = 0
for si in range(n_rows):
    top = TOP_STRIP_H if si == 0 else 7
    if si == n_rows - 1:
        bottom = PAGE_H - used - top - FRAME_H
    else:
        bottom = 6
    h = top + FRAME_H + bottom
    used += h
    label_col.append(y_labels(h, top, bottom))

# facet grid: column strips, panels with row strips, x labels, axis title
grid_rows = []
top_strips = []
for ci, reg in enumerate(REGIONS):
    top_strips.append(strip(reg, COL_LEFT[ci] + FRAME_W, TOP_STRIP_H, COL_LEFT[ci], 0,
                            TOP_STRIP_PAD, 0, False))
top_strips.append(Spacer(width=SIDE_STRIP_W, height=TOP_STRIP_H))
grid_rows.append(row(top_strips))

for si, name in enumerate(SERIES):
    last = si == n_rows - 1
    bottom = TICK_H if last else ROW_GAP
    h = FRAME_H + bottom
    figs = [panel(si, ci, h, bottom, last) for ci in range(len(REGIONS))]
    figs.append(strip(name, SIDE_STRIP_W, h, 0, 2, 0, bottom, True))
    grid_rows.append(row(figs))

tick_row = [x_labels(ci) for ci in range(len(REGIONS))]
tick_row.append(Spacer(width=SIDE_STRIP_W, height=X_LABEL_H))
grid_rows.append(row(tick_row))

grid_w = sum(COL_LEFT) + FRAME_W * len(REGIONS) + SIDE_STRIP_W
title = bare_figure(grid_w, TITLE_H, Range1d(0, 1), Range1d(0, 1),
                    COL_LEFT[0], SIDE_STRIP_W, 0, 0)
title.outline_line_color = None
title.add_layout(Label(x=0.5, y=0.5, text="Horizons", text_align="center",
                       text_baseline="middle", text_font=FONT,
                       text_font_size="15.5px", text_color="black"))
grid_rows.append(title)

layout = row(column(label_col), column(grid_rows))

PAGE = "{% block postamble %}<style>html, body { margin: 0; padding: 0; }</style>{% endblock %}"
open("out.html", "w").write(file_html(layout, INLINE, title="CPI responses", template=PAGE))
